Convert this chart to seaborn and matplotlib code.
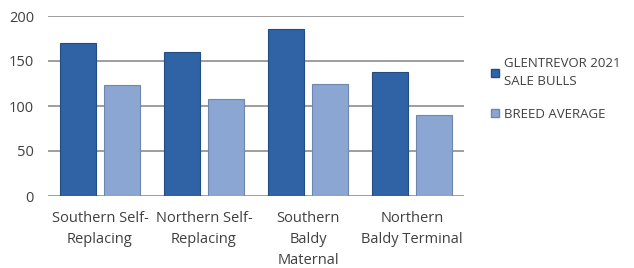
import pandas as pd
import matplotlib
matplotlib.use("Agg")
import matplotlib.pyplot as plt
from matplotlib.patches import Patch
import seaborn as sns

categories = ["Southern Self-\nReplacing", "Northern Self-\nReplacing",
              "Southern\nBaldy\nMaternal", "Northern\nBaldy Terminal"]
series_names = ["GLENTREVOR 2021\nSALE BULLS", "BREED AVERAGE"]
glentrevor = [170, 160, 186, 138]
breed_avg = [123, 108, 124, 90]
y_ticks = [0, 50, 100, 150, 200]

colors = ["#2F63A6", "#8CA6D3"]
edges = ["#234C82", "#6F86AE"]
text_col = "#404040"

df = pd.DataFrame({
    "category": categories * 2,
    "series": [series_names[0]] * 4 + [series_names[1]] * 4,
    "value": glentrevor + breed_avg,
})

sns.set_style("white")
plt.rcParams["font.family"] = ["Open Sans", "DejaVu Sans"]

fig = plt.figure(figsize=(6.34, 2.68), dpi=100)
ax = fig.add_axes([48 / 634, 72 / 268, 416 / 634, 180 / 268])

sns.barplot(data=df, x="category", y="value", hue="series", palette=colors,
            saturation=1, width=0.85, gap=0.2, ax=ax, legend=False, zorder=3)

for i, bar in enumerate(ax.patches):
    bar.set_edgecolor(edges[i // 4])
    bar.set_linewidth(0.8)

ax.set_ylim(0, 200)
ax.set_yticks(y_ticks)
ax.set_xlim(-0.5, 3.5)
ax.yaxis.grid(True, color="#8C8C8C", linewidth=1.2, zorder=0)
ax.set_axisbelow(True)
for s in ax.spines.values():
    s.set_visible(False)
ax.tick_params(axis="both", length=0, labelsize=10.5, colors=text_col)
ax.tick_params(axis="x", pad=11)
ax.tick_params(axis="y", pad=10)
ax.set_xlabel("")
ax.set_ylabel("")
for lbl in ax.get_xticklabels():
    lbl.set_linespacing(1.55)

handles = [Patch(facecolor=colors[k], edgecolor=edges[k], label=series_names[k])
           for k in range(2)]
leg = fig.legend(handles=handles, loc="upper left", bbox_to_anchor=(484 / 634, 1 - 50 / 268),
                 frameon=False, fontsize=9.5, labelcolor=text_col, handlelength=0.6,
                 handleheight=0.6, handletextpad=0.4, labelspacing=1.5, borderpad=0)
for t in leg.get_texts():
    t.set_linespacing(1.55)

fig.savefig("out.png", dpi=100)
